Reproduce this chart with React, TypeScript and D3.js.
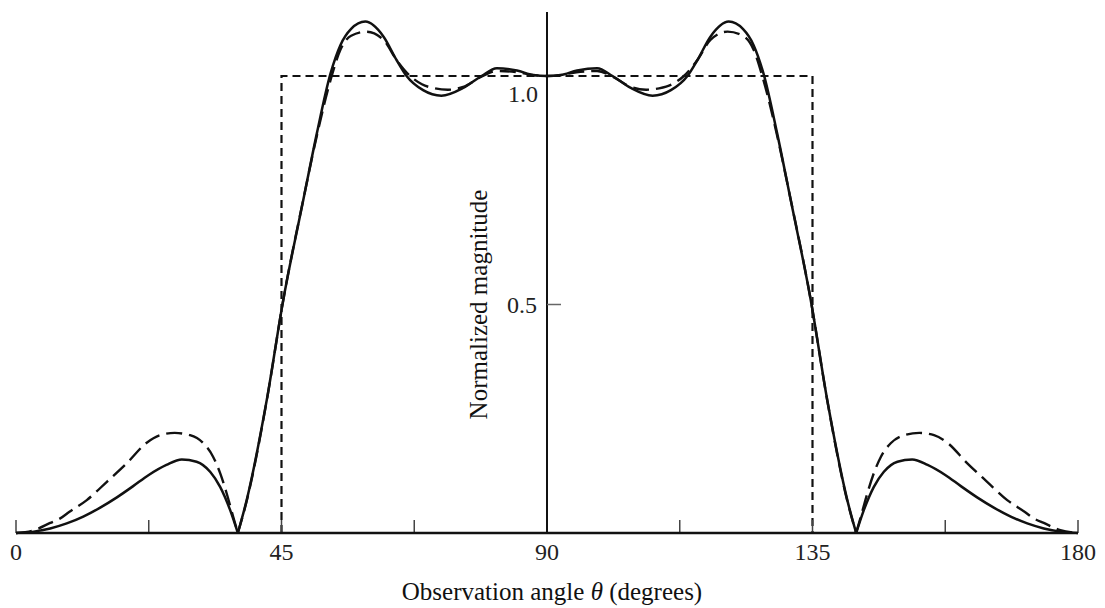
import React from "react";
import * as d3 from "d3";

const W = 1105;
const H = 608;

// Observation angle (degrees), normalized magnitude
const solidPattern: [number, number][] = [
  [0, 0], [3, 0.003], [5.8, 0.010], [8.6, 0.021], [11.4, 0.036], [14.2, 0.055], [17.1, 0.078],
  [19.8, 0.102], [22.5, 0.127], [25.5, 0.149], [28.1, 0.161], [30.6, 0.156], [32.9, 0.134],
  [34.6, 0.101], [36.3, 0.05], [37.6, 0],
  [39.1, 0.072], [42.5, 0.291], [45.3, 0.51], [48.7, 0.729], [51, 0.875], [53.3, 1.005],
  [55, 1.068], [56.8, 1.103], [59.2, 1.119], [62.3, 1.086], [64.5, 1.035], [66.2, 1.0],
  [69, 0.969], [72.1, 0.957], [75.8, 0.974], [78.9, 1.0], [81.5, 1.017], [84.9, 1.012],
  [87.7, 1.002], [90, 1.0],
  [92.3, 1.002], [95.1, 1.012], [98.5, 1.017], [101.1, 1.0], [104.2, 0.974], [107.9, 0.957],
  [111, 0.969], [113.8, 1.0], [115.5, 1.035], [117.7, 1.086], [120.8, 1.119], [123.2, 1.103],
  [125, 1.068], [126.7, 1.005], [129, 0.875], [131.3, 0.729], [134.7, 0.51], [137.5, 0.291],
  [140.9, 0.072], [142.4, 0],
  [143.7, 0.05], [145.4, 0.101], [147.1, 0.134], [149.4, 0.156], [151.9, 0.161], [154.5, 0.149],
  [157.5, 0.127], [160.2, 0.102], [162.9, 0.078], [165.8, 0.055], [168.6, 0.036], [171.4, 0.021],
  [174.2, 0.010], [177, 0.003], [180, 0],
];

const dashedPattern: [number, number][] = [
  [0, 0], [3, 0.006], [5.8, 0.022], [7.5, 0.032], [9, 0.046], [12, 0.072], [15.4, 0.112],
  [18.8, 0.153], [22.1, 0.197], [24.4, 0.214], [26.9, 0.219], [29.5, 0.214], [31.7, 0.197],
  [33.4, 0.167], [34.6, 0.131], [35.7, 0.087], [36.8, 0.036], [37.6, 0],
  [39.1, 0.07], [42.5, 0.29], [45.3, 0.51], [48.7, 0.73], [51, 0.87], [53.4, 0.995], [55, 1.058],
  [56.8, 1.088], [59.4, 1.097], [62.3, 1.079], [64.5, 1.035], [66.8, 1.0], [68.8, 0.982],
  [71, 0.973], [73.2, 0.97], [75.8, 0.976], [78.8, 0.998], [81.5, 1.011], [85, 1.008],
  [87.7, 1.002], [90, 1.0],
  [92.3, 1.002], [95, 1.008], [98.5, 1.011], [101.2, 0.998], [104.2, 0.976], [106.8, 0.97],
  [109, 0.973], [111.2, 0.982], [113.2, 1.0], [115.5, 1.035], [117.7, 1.079], [120.6, 1.097],
  [123.2, 1.088], [125, 1.058], [126.6, 0.995], [129, 0.87], [131.3, 0.73], [134.7, 0.51],
  [137.5, 0.29], [140.9, 0.07], [142.4, 0],
  [143.2, 0.036], [144.3, 0.087], [145.4, 0.131], [146.6, 0.167], [148.3, 0.197], [150.5, 0.214],
  [153.1, 0.219], [155.6, 0.214], [157.9, 0.197], [161.2, 0.153], [164.6, 0.112], [168, 0.072],
  [171, 0.046], [172.5, 0.032], [174.2, 0.022], [177, 0.006], [180, 0],
];

// Ideal sector pattern (dashed rectangle)
const idealPattern: [number, number][] = [
  [45, 0], [45, 1], [135, 1], [135, 0],
];

const xMinorTicks = [0, 22.5, 45, 67.5, 90, 112.5, 135, 157.5, 180];
const xTickLabels = [0, 45, 90, 135, 180];
const yTicks = [0.5];
const yLabels = ["0.5", "1.0"];

const FONT = "'Liberation Serif', 'Times New Roman', serif";

function splitAtNulls(data: [number, number][]): [number, number][][] {
  const segs: [number, number][][] = [];
  let cur: [number, number][] = [];
  data.forEach((d, i) => {
    cur.push(d);
    if (d[1] === 0 && i > 0 && i < data.length - 1) {
      segs.push(cur);
      cur = [d];
    }
  });
  if (cur.length > 1) segs.push(cur);
  return segs;
}

export default function App() {
  const x = d3.scaleLinear().domain([0, 180]).range([16, 1078]);
  const y = d3.scaleLinear().domain([0, 1]).range([533, 76]);

  const curve = d3
    .line<[number, number]>()
    .x((d) => x(d[0]))
    .y((d) => y(d[1]))
    .curve(d3.curveMonotoneX);
  const straight = d3
    .line<[number, number]>()
    .x((d) => x(d[0]))
    .y((d) => y(d[1]));

  const solidSegs = splitAtNulls(solidPattern);
  const dashedSegs = splitAtNulls(dashedPattern);

  return (
    <svg
      width={W}
      height={H}
      style={{ position: "absolute", left: 0, top: 0, background: "#fff" }}
      fontFamily={FONT}
    >
      <rect width={W} height={H} fill="#fff" />
      {/* ideal sector */}
      <path
        d={straight(idealPattern) || ""}
        fill="none"
        stroke="#111"
        strokeWidth={2.2}
        strokeDasharray="8 5"
      />
      {/* x minor ticks */}
      {xMinorTicks.map((t) => (
        <line key={"xt" + t} x1={x(t)} x2={x(t)} y1={y(0)} y2={y(0) - 13} stroke="#444" strokeWidth={1.5} />
      ))}
      {/* y axis */}
      <line x1={x(90)} x2={x(90)} y1={y(0)} y2={y(1.14)} stroke="#111" strokeWidth={2} />
      {yTicks.map((t) => (
        <line key={"yt" + t} x1={x(90)} x2={x(90) + 14} y1={y(t)} y2={y(t)} stroke="#666" strokeWidth={1.5} />
      ))}
      {/* curves */}
      {dashedSegs.map((s, i) => (
        <path key={"d" + i} d={curve(s) || ""} fill="none" stroke="#111" strokeWidth={2.4} strokeDasharray="16 7" />
      ))}
      {solidSegs.map((s, i) => (
        <path key={"s" + i} d={curve(s) || ""} fill="none" stroke="#111" strokeWidth={2.5} />
      ))}
      {/* x axis baseline */}
      <line x1={x(0)} x2={x(180)} y1={y(0)} y2={y(0)} stroke="#111" strokeWidth={2.5} />
      {/* x tick labels */}
      {xTickLabels.map((t) => (
        <text key={"xl" + t} x={x(t)} y={560} textAnchor="middle" fontSize={24} fill="#222">
          {t}
        </text>
      ))}
      {/* y labels */}
      <text x={537} y={y(0.5) + 8} textAnchor="end" fontSize={24} fill="#222">
        {yLabels[0]}
      </text>
      <text x={538} y={102} textAnchor="end" fontSize={24} fill="#222">
        {yLabels[1]}
      </text>
      {/* axis titles */}
      <text transform={`translate(487,${y(0.5)}) rotate(-90)`} textAnchor="middle" fontSize={25} fill="#111">
        Normalized magnitude
      </text>
      <text x={552} y={600} textAnchor="middle" fontSize={25} fill="#111">
        Observation angle <tspan fontStyle="italic">θ</tspan> (degrees)
      </text>
    </svg>
  );
}
